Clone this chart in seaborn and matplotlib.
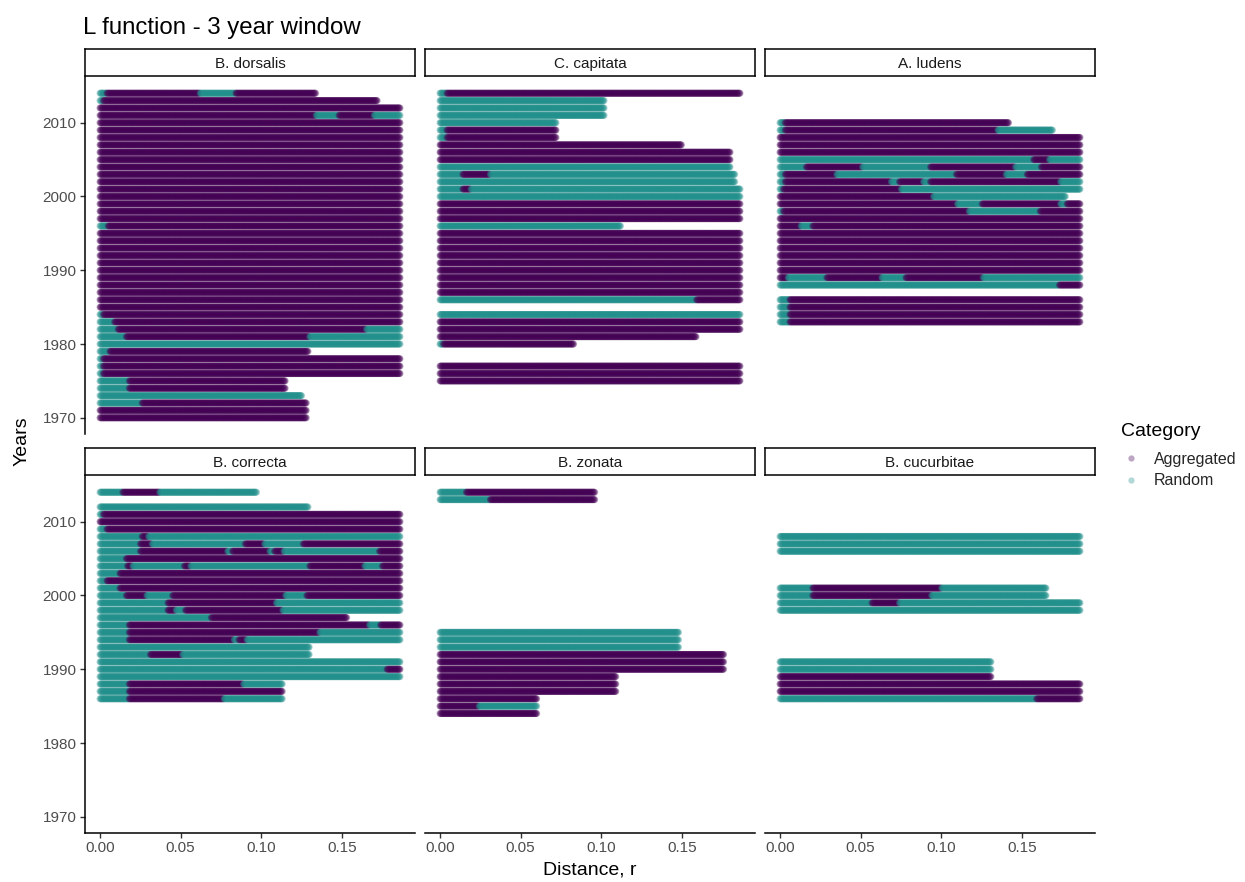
import numpy as np
import pandas as pd
import matplotlib
matplotlib.use("Agg")
import matplotlib.pyplot as plt
from matplotlib.lines import Line2D
import seaborn as sns

sns.set_theme(style="white")
plt.rcParams["font.family"] = ["Liberation Sans", "DejaVu Sans"]

# ---------------------------------------------------------------- data
# distances at which the L function was evaluated (spatstat default: 513 values)
R_MAX = 0.186
r_grid = np.linspace(0, R_MAX, 513)

species = ["B. dorsalis", "C. capitata", "A. ludens",
           "B. correcta", "B. zonata", "B. cucurbitae"]
categories = ["Aggregated", "Random"]
codes = {"A": "Aggregated", "R": "Random"}
palette = {"Aggregated": "#440154", "Random": "#21908C"}

# For every year: consecutive runs along r, as (category code, r where the run ends)
dorsalis = {
    2014: [("R", .004), ("A", .062), ("R", .084), ("A", .134)],
    2013: [("R", .002), ("A", .172)],
    2012: [("A", .186)],
    2011: [("A", .134), ("R", .148), ("A", .170), ("R", .186)],
    2010: [("A", .186)], 2009: [("A", .186)], 2008: [("A", .186)],
    2007: [("A", .186)], 2006: [("A", .186)], 2005: [("A", .186)],
    2004: [("A", .186)], 2003: [("A", .186)], 2002: [("A", .186)],
    2001: [("A", .186)], 2000: [("A", .186)], 1999: [("A", .186)],
    1998: [("A", .186)], 1997: [("A", .186)],
    1996: [("R", .005), ("A", .186)],
    1995: [("A", .186)], 1994: [("A", .186)], 1993: [("A", .186)],
    1992: [("A", .186)], 1991: [("A", .186)], 1990: [("A", .186)],
    1989: [("A", .186)], 1988: [("A", .186)], 1987: [("A", .186)],
    1986: [("A", .186)], 1985: [("A", .186)],
    1984: [("R", .002), ("A", .186)],
    1983: [("R", .009), ("A", .186)],
    1982: [("R", .011), ("A", .165), ("R", .186)],
    1981: [("R", .016), ("A", .130), ("R", .186)],
    1980: [("R", .186)],
    1979: [("R", .006), ("A", .129)],
    1978: [("R", .002), ("A", .186)],
    1977: [("R", .002), ("A", .186)],
    1976: [("R", .002), ("A", .186)],
    1975: [("R", .018), ("A", .115)],
    1974: [("R", .018), ("A", .115)],
    1973: [("R", .125)],
    1972: [("R", .026), ("A", .128)],
    1971: [("A", .128)],
    1970: [("A", .128)],
}

capitata = {
    2014: [("R", .004), ("A", .186)],
    2013: [("R", .102)], 2012: [("R", .102)], 2011: [("R", .102)],
    2010: [("R", .072)],
    2009: [("R", .004), ("A", .072)],
    2008: [("R", .004), ("A", .072)],
    2007: [("A", .150)],
    2006: [("A", .180)], 2005: [("A", .180)],
    2004: [("R", .180)],
    2003: [("R", .014), ("A", .031), ("R", .183)],
    2002: [("R", .183)],
    2001: [("R", .014), ("A", .019), ("R", .186)],
    2000: [("R", .186)],
    1999: [("A", .186)], 1998: [("A", .186)], 1997: [("A", .186)],
    1996: [("R", .112)],
    1995: [("A", .186)], 1994: [("A", .186)], 1993: [("A", .186)],
    1992: [("A", .186)], 1991: [("A", .186)], 1990: [("A", .186)],
    1989: [("A", .186)], 1988: [("A", .186)], 1987: [("A", .186)],
    1986: [("R", .159), ("A", .186)],
    1984: [("R", .186)],
    1983: [("A", .186)], 1982: [("A", .186)],
    1981: [("A", .159)],
    1980: [("R", .002), ("A", .083)],
    1977: [("A", .186)], 1976: [("A", .186)], 1975: [("A", .186)],
}

ludens = {
    2010: [("R", .003), ("A", .142)],
    2009: [("R", .003), ("A", .135), ("R", .169)],
    2008: [("A", .186)], 2007: [("A", .186)], 2006: [("A", .186)],
    2005: [("R", .157), ("A", .167), ("R", .186)],
    2004: [("R", .016), ("A", .051), ("R", .093), ("A", .146), ("R", .162), ("A", .186)],
    2003: [("R", .003), ("A", .035), ("R", .109), ("A", .140), ("R", .153), ("A", .186)],
    2002: [("R", .003), ("A", .069), ("R", .074), ("A", .089), ("R", .093), ("A", .174), ("R", .186)],
    2001: [("R", .002), ("A", .075), ("R", .186)],
    2000: [("A", .095), ("R", .177)],
    1999: [("A", .110), ("R", .125), ("A", .174), ("R", .178), ("A", .186)],
    1998: [("R", .002), ("A", .117), ("R", .161), ("A", .186)],
    1997: [("A", .186)],
    1996: [("A", .013), ("R", .020), ("A", .186)],
    1995: [("A", .186)], 1994: [("A", .186)], 1993: [("A", .186)],
    1992: [("A", .186)], 1991: [("A", .186)], 1990: [("A", .186)],
    1989: [("A", .005), ("R", .029), ("A", .063), ("R", .078), ("A", .126), ("R", .186)],
    1988: [("R", .173), ("A", .186)],
    1986: [("R", .006), ("A", .186)],
    1985: [("R", .006), ("A", .186)],
    1984: [("R", .006), ("A", .186)],
    1983: [("R", .006), ("A", .186)],
}

correcta = {
    2014: [("R", .014), ("A", .037), ("R", .097)],
    2012: [("R", .129)],
    2011: [("R", .002), ("A", .186)],
    2010: [("A", .186)],
    2009: [("R", .004), ("A", .186)],
    2008: [("R", .026), ("A", .030), ("R", .186)],
    2007: [("R", .025), ("A", .032), ("R", .090), ("A", .102), ("R", .126), ("A", .186)],
    2006: [("R", .025), ("A", .079), ("R", .082), ("A", .105), ("R", .108), ("A", .114),
           ("R", .173), ("A", .186)],
    2005: [("R", .016), ("A", .186)],
    2004: [("R", .017), ("A", .020), ("R", .052), ("A", .056), ("R", .130), ("A", .164),
           ("R", .175), ("A", .186)],
    2003: [("R", .012), ("A", .186)],
    2002: [("R", .004), ("A", .186)],
    2001: [("R", .012), ("A", .186)],
    2000: [("R", .016), ("A", .029), ("R", .045), ("A", .115), ("R", .128), ("A", .186)],
    1999: [("R", .042), ("A", .109), ("R", .186)],
    1998: [("R", .042), ("A", .047), ("R", .053), ("A", .113), ("R", .186)],
    1997: [("R", .069), ("A", .153)],
    1996: [("R", .018), ("A", .167), ("R", .174), ("A", .186)],
    1995: [("R", .018), ("A", .136), ("R", .186)],
    1994: [("R", .018), ("A", .083), ("R", .086), ("A", .091), ("R", .186)],
    1993: [("R", .130)],
    1992: [("R", .031), ("A", .051), ("R", .130)],
    1991: [("R", .186)],
    1990: [("R", .178), ("A", .186)],
    1989: [("R", .186)],
    1988: [("R", .018), ("A", .089), ("R", .113)],
    1987: [("R", .018), ("A", .113)],
    1986: [("R", .018), ("A", .077), ("R", .113)],
}

zonata = {
    2014: [("R", .016), ("A", .096)],
    2013: [("R", .031), ("A", .096)],
    1995: [("R", .148)], 1994: [("R", .148)], 1993: [("R", .148)],
    1992: [("A", .176)], 1991: [("A", .176)], 1990: [("A", .176)],
    1989: [("A", .109)], 1988: [("A", .109)], 1987: [("A", .109)],
    1986: [("A", .060)],
    1985: [("A", .024), ("R", .060)],
    1984: [("A", .060)],
}

cucurbitae = {
    2008: [("R", .186)], 2007: [("R", .186)], 2006: [("R", .186)],
    2001: [("R", .020), ("A", .100), ("R", .165)],
    2000: [("R", .020), ("A", .094), ("R", .165)],
    1999: [("R", .057), ("A", .074), ("R", .186)],
    1998: [("R", .186)],
    1991: [("R", .131)], 1990: [("R", .131)],
    1989: [("A", .131)],
    1988: [("A", .186)], 1987: [("A", .186)],
    1986: [("R", .159), ("A", .186)],
}

runs_by_species = [dorsalis, capitata, ludens, correcta, zonata, cucurbitae]

# ------------------------------------------------ long table of points
frames = []
for sp, runs in zip(species, runs_by_species):
    for year, segs in runs.items():
        ends = np.array([e for _, e in segs])
        rr = r_grid[r_grid <= ends[-1] + 1e-9]
        idx = np.clip(np.searchsorted(ends, rr, side="left"), 0, len(segs) - 1)
        frames.append(pd.DataFrame({
            "species": sp,
            "year": year,
            "r": rr,
            "category": [codes[segs[i][0]] for i in idx],
        }))
df = pd.concat(frames, ignore_index=True)

# ------------------------------------------------------------- layout
W, H = 1245, 882
fig = plt.figure(figsize=(W / 100, H / 100), dpi=100)
fig.patch.set_facecolor("white")


def box(left, top, width, height):
    return [left / W, 1 - (top + height) / H, width / W, height / H]


col_left = [85, 425, 765]
panel_w = 330
panel_top = [77, 476]
panel_h = 357
strip_h = 27

y_lo, y_hi = df["year"].min(), df["year"].max()
y_pad = 0.05 * (y_hi - y_lo)
x_pad = 0.05 * R_MAX

tick_col = "#4D4D4D"
for k, sp in enumerate(species):
    i, j = divmod(k, 3)
    ax = fig.add_axes(box(col_left[j], panel_top[i], panel_w, panel_h))
    sub = df[df["species"] == sp]
    sns.scatterplot(data=sub, x="r", y="year", hue="category",
                    hue_order=categories, palette=palette, s=26, alpha=0.3,
                    linewidth=0, legend=False, ax=ax, rasterized=True)
    ax.set_xlim(-x_pad, R_MAX + x_pad)
    ax.set_ylim(y_lo - y_pad, y_hi + y_pad)
    ax.set_xlabel("")
    ax.set_ylabel("")
    ax.set_facecolor("white")
    ax.grid(False)
    ax.set_xticks([0, 0.05, 0.10, 0.15])
    ax.set_xticklabels(["0.00", "0.05", "0.10", "0.15"])
    ax.set_yticks([1970, 1980, 1990, 2000, 2010])
    for s in ax.spines.values():
        s.set_visible(False)
    ax.tick_params(axis="both", length=3.6, width=1.0, color="#333333",
                   labelcolor=tick_col, labelsize=11, pad=2.5)
    if j == 0:
        ax.spines["left"].set_visible(True)
        ax.spines["left"].set_color("black")
        ax.spines["left"].set_linewidth(1.1)
        ax.tick_params(axis="y", left=True, labelleft=True)
    else:
        ax.tick_params(axis="y", left=False, labelleft=False)
    if i == 1:
        ax.spines["bottom"].set_visible(True)
        ax.spines["bottom"].set_color("black")
        ax.spines["bottom"].set_linewidth(1.1)
        ax.tick_params(axis="x", bottom=True, labelbottom=True)
    else:
        ax.tick_params(axis="x", bottom=False, labelbottom=False)

    # facet strip
    sax = fig.add_axes(box(col_left[j], panel_top[i] - strip_h - 1, panel_w, strip_h))
    sax.set_xticks([])
    sax.set_yticks([])
    sax.set_facecolor("white")
    for s in sax.spines.values():
        s.set_visible(True)
        s.set_color("black")
        s.set_linewidth(1.1)
    sax.text(0.5, 0.45, sp, ha="center", va="center", fontsize=11,
             color="#1A1A1A", transform=sax.transAxes)

# titles
fig.text(83 / W, 1 - 28 / H, "L function - 3 year window", fontsize=17.3,
         ha="left", va="center", color="black")
fig.text(590 / W, 1 - 870 / H, "Distance, r", fontsize=14,
         ha="center", va="center", color="black")
fig.text(22 / W, 1 - 441 / H, "Years", fontsize=14, rotation=90,
         ha="center", va="center", color="black")

# legend (title drawn separately to keep ggplot-like spacing)
fig.text(1121 / W, 1 - 432 / H, "Category", fontsize=14,
         ha="left", va="center", color="black")
handles = [Line2D([], [], marker="o", linestyle="", markersize=4.5,
                  markerfacecolor=palette[c], markeredgewidth=0, alpha=0.35)
           for c in categories]
fig.legend(handles, categories, loc="upper left",
           bbox_to_anchor=(1121 / W, 1 - 452 / H), frameon=False,
           fontsize=11.5, handlelength=1.2, handletextpad=0.85,
           labelspacing=0.4, borderpad=0, borderaxespad=0)

fig.savefig("out.png", dpi=100, facecolor="white")
